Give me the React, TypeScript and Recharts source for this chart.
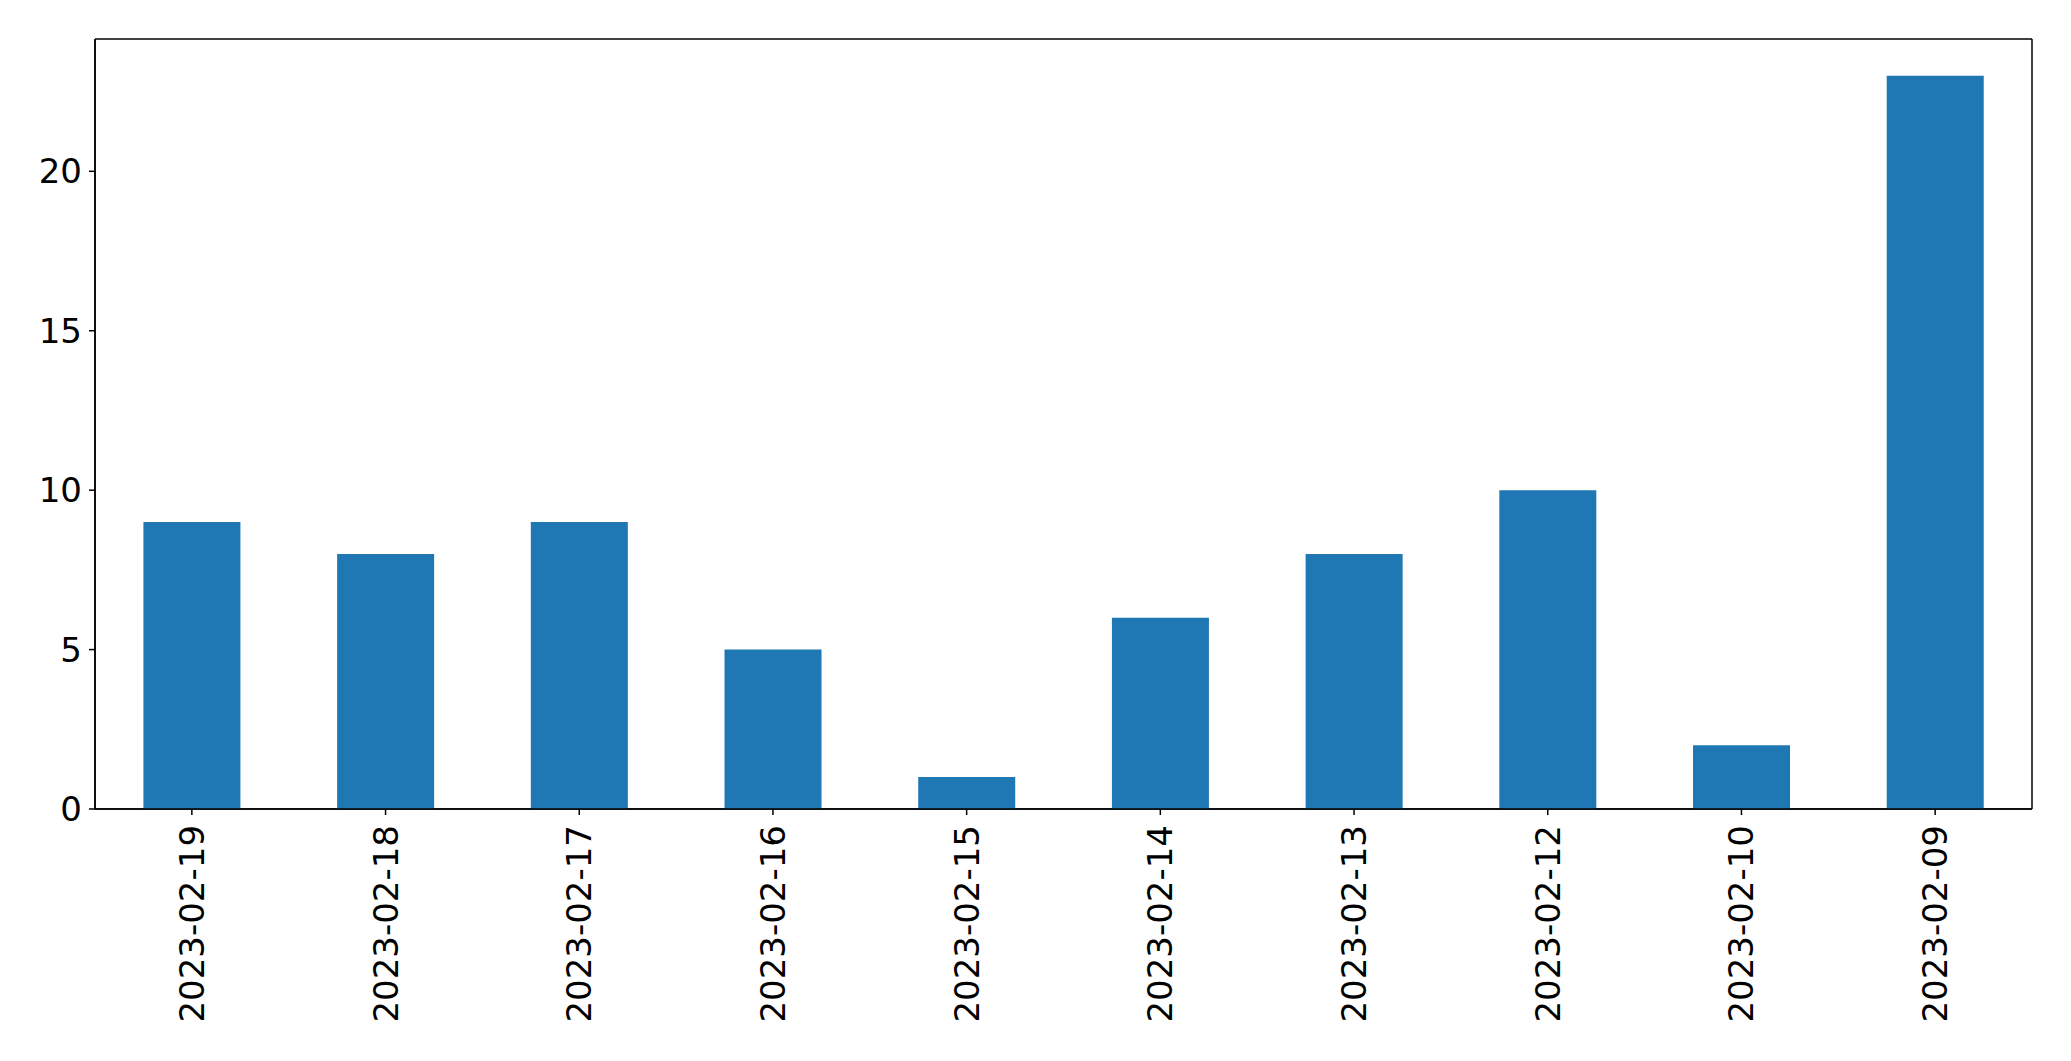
import { BarChart, Bar, XAxis, YAxis, CartesianGrid } from "recharts"

const dates = [
  "2023-02-19",
  "2023-02-18",
  "2023-02-17",
  "2023-02-16",
  "2023-02-15",
  "2023-02-14",
  "2023-02-13",
  "2023-02-12",
  "2023-02-10",
  "2023-02-09",
]
const counts = [9, 8, 9, 5, 1, 6, 8, 10, 2, 23]
const yTicks = [0, 5, 10, 15, 20]

const chartData = dates.map((d, i) => ({ date: d, count: counts[i] }))

const FONT = "'DejaVu Sans', sans-serif"
const FONT_SIZE = 34

function DateTick({ x, y, payload }: any) {
  const ty = y + 8
  return (
    <text
      x={x}
      y={ty}
      transform={`rotate(-90 ${x} ${ty})`}
      textAnchor="end"
      dominantBaseline="central"
      fontFamily={FONT}
      fontSize={FONT_SIZE}
      fill="#000"
    >
      {payload.value}
    </text>
  )
}

export default function App() {
  return (
    <div style={{ position: "absolute", left: 0, top: 0, width: 2071, height: 1061, background: "#fff" }}>
      <BarChart
        width={2071}
        height={1061}
        data={chartData}
        margin={{ top: 39, right: 39, left: 0, bottom: 0 }}
        barCategoryGap="25%"
      >
        {/* frame around the plot area */}
        <CartesianGrid
          stroke="#000"
          strokeWidth={1.5}
          horizontalCoordinatesGenerator={({ offset }: any) => [offset.top, offset.top + offset.height]}
          verticalCoordinatesGenerator={({ offset }: any) => [offset.left, offset.left + offset.width]}
        />
        <XAxis
          dataKey="date"
          height={252}
          interval={0}
          tickSize={6}
          tick={<DateTick />}
          axisLine={{ stroke: "#000", strokeWidth: 1.5 }}
          tickLine={{ stroke: "#000", strokeWidth: 1.5 }}
        />
        <YAxis
          width={95}
          domain={[0, 24.15]}
          ticks={yTicks}
          tickSize={6}
          tickMargin={7}
          allowDataOverflow
          axisLine={{ stroke: "#000", strokeWidth: 1.5 }}
          tickLine={{ stroke: "#000", strokeWidth: 1.5 }}
          tick={{ fill: "#000", fontSize: FONT_SIZE, fontFamily: FONT }}
        />
        <Bar dataKey="count" fill="#1f77b4" isAnimationActive={false} />
      </BarChart>
    </div>
  )
}
